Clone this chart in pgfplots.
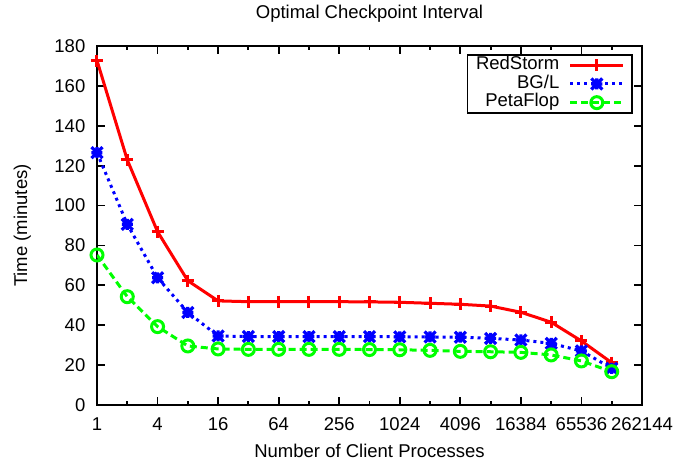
\documentclass[border=0pt]{standalone}
\usepackage{fontspec}
\setmainfont{Liberation Sans}
\usepackage{pgfplots}
\usepackage{pgfplotstable}
\pgfplotsset{compat=1.18}

\definecolor{gpred}{RGB}{255,0,0}
\definecolor{gpblue}{RGB}{0,0,255}
\definecolor{gpgreen}{RGB}{0,255,0}

% gnuplot's "*" point: a + and an x on top of each other
\pgfdeclareplotmark{gpstar}{%
  \pgfpathmoveto{\pgfqpoint{-\pgfplotmarksize}{0pt}}%
  \pgfpathlineto{\pgfqpoint{\pgfplotmarksize}{0pt}}%
  \pgfpathmoveto{\pgfqpoint{0pt}{-\pgfplotmarksize}}%
  \pgfpathlineto{\pgfqpoint{0pt}{\pgfplotmarksize}}%
  \pgfpathmoveto{\pgfqpoint{-\pgfplotmarksize}{-\pgfplotmarksize}}%
  \pgfpathlineto{\pgfqpoint{\pgfplotmarksize}{\pgfplotmarksize}}%
  \pgfpathmoveto{\pgfqpoint{-\pgfplotmarksize}{\pgfplotmarksize}}%
  \pgfpathlineto{\pgfqpoint{\pgfplotmarksize}{-\pgfplotmarksize}}%
  \pgfusepathqstroke}

\pgfplotstableread{
n       redstorm bgl  petaflop
1       172.7    126.5 75.2
2       122.9    90.6  54.3
4       86.9     63.8  39.3
8       62.3     46.4  29.6
16      52.2     34.6  28.1
32      51.8     34.3  27.9
64      51.8     34.3  27.9
128     51.8     34.3  27.9
256     51.8     34.3  27.9
512     51.7     34.3  27.8
1024    51.5     34.2  27.7
2048    51.0     34.1  27.4
4096    50.5     34.0  26.9
8192    49.6     33.4  26.7
16384   46.5     32.6  26.4
32768   41.5     30.9  25.1
65536   32.1     27.1  22.1
131072  21.2     18.4  16.7
}\clienttimes

\begin{document}
\fontsize{18.5}{22}\selectfont
\begin{tikzpicture}
\begin{axis}[
  width=545pt, height=359pt, scale only axis,
  xmode=log, log basis x=2,
  xmin=1, xmax=262144, ymin=0, ymax=180,
  xtick={1,4,16,64,256,1024,4096,16384,65536,262144},
  xticklabels={1,4,16,64,256,1024,4096,16384,65536,262144},
  minor xtick={},
  extra x ticks={2,8,32,128,512,2048,8192,32768,131072},
  extra x tick labels={},
  extra x tick style={major tick length=4pt},
  ytick={0,20,...,180},
  /pgf/number format/assume math mode=true,
  axis line style={line width=2pt},
  tick style={line width=1.8pt, black},
  major tick length=8pt,
  xticklabel style={anchor=base, yshift=-25pt},
  yticklabel style={anchor=east, inner sep=0pt, xshift=-11.5pt},
  title={Optimal Checkpoint Interval},
  title style={at={(axis description cs:0.5,1)}, anchor=base, yshift=22pt},
  xlabel={Number of Client Processes},
  xlabel style={at={(axis description cs:0.5,0)}, anchor=base, yshift=-52pt},
  ylabel={Time (minutes)},
  ylabel style={at={(axis description cs:-0.1284,0.5)}, anchor=base},
  legend plot pos=right,
  legend cell align=right,
  legend image code/.code={\draw[mark repeat=2, mark phase=2]
    plot coordinates {(0pt,0pt) (26.5pt,0pt) (53pt,0pt)};},
  legend style={at={(axis description cs:1,1)}, anchor=north east,
    xshift=-9.3pt, yshift=-8pt, draw=black, line width=1.8pt,
    inner xsep=7pt, inner ysep=1pt, row sep=0pt,
    /tikz/every odd column/.append style={column sep=8pt},
    nodes={inner sep=1.5pt, text height=12pt, text depth=3.7pt}},
]
\addplot[gpred, line width=3pt, mark=+, mark size=6pt, mark options={solid}]
  table[x=n, y=redstorm] {\clienttimes};
\addplot[gpblue, line width=3pt, dash pattern=on 3pt off 4pt,
  mark=gpstar, mark size=5.5pt, mark options={solid, line width=3.2pt}]
  table[x=n, y=bgl] {\clienttimes};
\addplot[gpgreen, line width=3pt, dash pattern=on 7pt off 4pt,
  mark=o, mark size=6pt, mark options={solid}]
  table[x=n, y=petaflop] {\clienttimes};
\legend{RedStorm, BG/L, PetaFlop}
\end{axis}
\pgfresetboundingbox
\path ([xshift=-97pt,yshift=-56pt]current axis.south west)
  rectangle ([xshift=46pt,yshift=46pt]current axis.north east);
\end{tikzpicture}
\end{document}
